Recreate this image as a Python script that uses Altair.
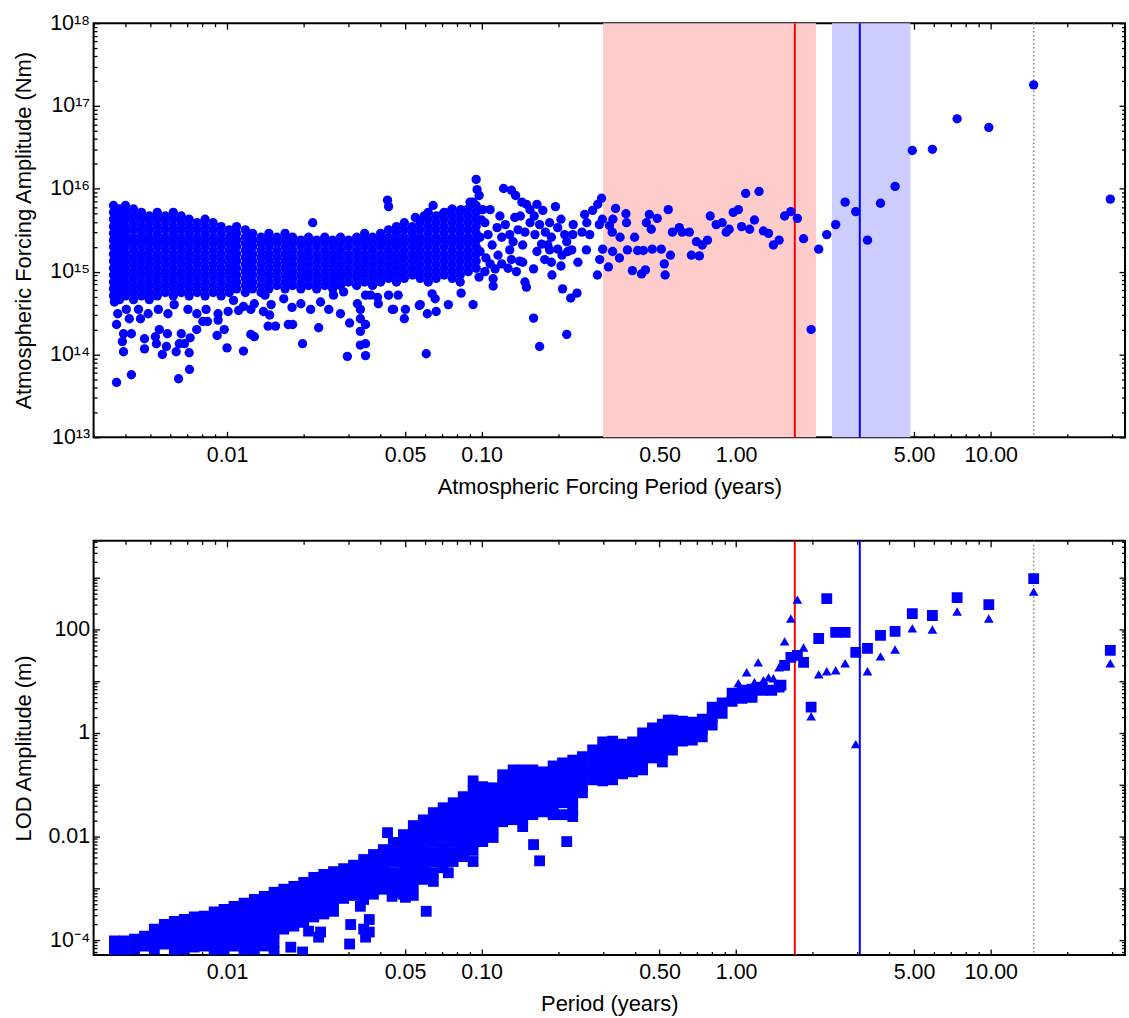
import altair as alt
import pandas as pd

FONT = "Liberation Sans"
BLUE = "#0000FF"

# ---------------- axis ranges / ticks ----------------
x_domain = [0.00299, 33.7]
top_y_domain = [1e13, 1e18]
bot_y_domain = [5.15e-5, 5150]

x_label_values = [0.01, 0.05, 0.1, 0.5, 1, 5, 10]
x_minor_values = [0.003, 0.004, 0.005, 0.006, 0.007, 0.008, 0.009,
                  0.02, 0.03, 0.04, 0.06, 0.07, 0.08, 0.09,
                  0.2, 0.3, 0.4, 0.6, 0.7, 0.8, 0.9,
                  2, 3, 4, 6, 7, 8, 9, 20, 30]
top_y_labels = [1e13, 1e14, 1e15, 1e16, 1e17, 1e18]
top_y_minor = [m * 10.0 ** e for e in range(13, 18) for m in range(2, 10)]
bot_y_labels = [1e-4, 0.01, 1, 100]
bot_y_major = [1e-4, 1e-3, 0.01, 0.1, 1, 10, 100, 1000]
bot_y_minor = [m * 10.0 ** e for e in range(-5, 4) for m in range(2, 10)]

# ---------------- top panel data: forcing amplitude (Nm) vs period (years) ----------------
top_dense_period = [0.00358, 0.00378, 0.00399, 0.00429, 0.00461, 0.00495, 0.00532, 0.00572, 0.00615, 0.00661,
                    0.00710, 0.00763, 0.00820, 0.00882, 0.00948, 0.0102, 0.0109, 0.0118, 0.0126, 0.0136,
                    0.0146, 0.0157, 0.0169, 0.0181, 0.0195, 0.0209, 0.0225, 0.0242, 0.0260, 0.0279,
                    0.0300, 0.0323, 0.0347, 0.0373, 0.0401, 0.0431, 0.0463, 0.0497, 0.0535, 0.0574,
                    0.0617, 0.0663, 0.0713, 0.0767, 0.0824, 0.0886, 0.0952]
top_dense_amp = [
    [6.3e15, 5.2e15, 4.3e15, 3.5e15, 2.9e15, 2.4e15, 2.0e15, 1.63e15, 1.34e15, 1.1e15, 9.1e14, 7.5e14, 6.2e14, 5.1e14],
    [5.7e15, 4.7e15, 3.9e15, 3.2e15, 2.6e15, 2.2e15, 1.8e15, 1.48e15, 1.22e15, 1.0e15, 8.3e14, 6.8e14, 5.6e14, 4.6e14],
    [6.3e15, 5.2e15, 4.3e15, 3.5e15, 2.9e15, 2.4e15, 2.0e15, 1.63e15, 1.34e15, 1.1e15, 9.1e14, 7.5e14, 6.2e14, 5.1e14],
    [5.7e15, 4.7e15, 3.9e15, 3.2e15, 2.6e15, 2.2e15, 1.8e15, 1.48e15, 1.22e15, 1.0e15, 8.3e14, 6.8e14, 5.6e14, 4.6e14],
    [5.2e15, 4.3e15, 3.5e15, 2.9e15, 2.4e15, 2.0e15, 1.63e15, 1.34e15, 1.1e15, 9.1e14, 7.5e14, 6.2e14, 5.1e14],
    [4.7e15, 3.9e15, 3.2e15, 2.6e15, 2.2e15, 1.8e15, 1.48e15, 1.22e15, 1.0e15, 8.3e14, 6.8e14, 5.6e14, 4.6e14],
    [5.2e15, 4.3e15, 3.5e15, 2.9e15, 2.4e15, 2.0e15, 1.63e15, 1.34e15, 1.1e15, 9.1e14, 7.5e14, 6.2e14, 5.1e14],
    [4.7e15, 3.9e15, 3.2e15, 2.6e15, 2.2e15, 1.8e15, 1.48e15, 1.22e15, 1.0e15, 8.3e14, 6.8e14, 5.6e14],
    [5.2e15, 4.3e15, 3.5e15, 2.9e15, 2.4e15, 2.0e15, 1.63e15, 1.34e15, 1.1e15, 9.1e14, 7.5e14, 6.2e14, 5.1e14],
    [4.7e15, 3.9e15, 3.2e15, 2.6e15, 2.2e15, 1.8e15, 1.48e15, 1.22e15, 1.0e15, 8.3e14, 6.8e14, 5.6e14],
    [4.3e15, 3.5e15, 2.9e15, 2.4e15, 2.0e15, 1.63e15, 1.34e15, 1.1e15, 9.1e14, 7.5e14, 6.2e14, 5.1e14],
    [3.9e15, 3.2e15, 2.6e15, 2.2e15, 1.8e15, 1.48e15, 1.22e15, 1.0e15, 8.3e14, 6.8e14, 5.6e14],
    [4.3e15, 3.5e15, 2.9e15, 2.4e15, 2.0e15, 1.63e15, 1.34e15, 1.1e15, 9.1e14, 7.5e14, 6.2e14, 5.1e14],
    [3.9e15, 3.2e15, 2.6e15, 2.2e15, 1.8e15, 1.48e15, 1.22e15, 1.0e15, 8.3e14, 6.8e14, 5.6e14],
    [3.5e15, 2.9e15, 2.4e15, 2.0e15, 1.63e15, 1.34e15, 1.1e15, 9.1e14, 7.5e14, 6.2e14, 5.1e14],
    [3.2e15, 2.6e15, 2.2e15, 1.8e15, 1.48e15, 1.22e15, 1.0e15, 8.3e14, 6.8e14, 5.6e14],
    [3.5e15, 2.9e15, 2.4e15, 2.0e15, 1.63e15, 1.34e15, 1.1e15, 9.1e14, 7.5e14, 6.2e14],
    [3.2e15, 2.6e15, 2.2e15, 1.8e15, 1.48e15, 1.22e15, 1.0e15, 8.3e14, 6.8e14, 5.6e14],
    [2.9e15, 2.4e15, 2.0e15, 1.63e15, 1.34e15, 1.1e15, 9.1e14, 7.5e14, 6.2e14],
    [2.6e15, 2.2e15, 1.8e15, 1.48e15, 1.22e15, 1.0e15, 8.3e14, 6.8e14, 5.6e14],
    [2.9e15, 2.4e15, 2.0e15, 1.63e15, 1.34e15, 1.1e15, 9.1e14, 7.5e14, 6.2e14],
    [2.6e15, 2.2e15, 1.8e15, 1.48e15, 1.22e15, 1.0e15, 8.3e14, 6.8e14],
    [2.9e15, 2.4e15, 2.0e15, 1.63e15, 1.34e15, 1.1e15, 9.1e14, 7.5e14, 6.2e14],
    [2.6e15, 2.2e15, 1.8e15, 1.48e15, 1.22e15, 1.0e15, 8.3e14, 6.8e14],
    [2.4e15, 2.0e15, 1.63e15, 1.34e15, 1.1e15, 9.1e14, 7.5e14, 6.2e14],
    [2.6e15, 2.2e15, 1.8e15, 1.48e15, 1.22e15, 1.0e15, 8.3e14, 6.8e14],
    [2.4e15, 2.0e15, 1.63e15, 1.34e15, 1.1e15, 9.1e14, 7.5e14, 6.2e14],
    [2.6e15, 2.2e15, 1.8e15, 1.48e15, 1.22e15, 1.0e15, 8.3e14, 6.8e14],
    [2.4e15, 2.0e15, 1.63e15, 1.34e15, 1.1e15, 9.1e14, 7.5e14, 6.2e14],
    [2.6e15, 2.2e15, 1.8e15, 1.48e15, 1.22e15, 1.0e15, 8.3e14, 6.8e14],
    [2.4e15, 2.0e15, 1.63e15, 1.34e15, 1.1e15, 9.1e14, 7.5e14],
    [2.6e15, 2.2e15, 1.8e15, 1.48e15, 1.22e15, 1.0e15, 8.3e14, 6.8e14],
    [2.9e15, 2.4e15, 2.0e15, 1.63e15, 1.34e15, 1.1e15, 9.1e14, 7.5e14],
    [2.6e15, 2.2e15, 1.8e15, 1.48e15, 1.22e15, 1.0e15, 8.3e14, 6.8e14],
    [2.9e15, 2.4e15, 2.0e15, 1.63e15, 1.34e15, 1.1e15, 9.1e14, 7.5e14],
    [3.2e15, 2.6e15, 2.2e15, 1.8e15, 1.48e15, 1.22e15, 1.0e15, 8.3e14],
    [3.5e15, 2.9e15, 2.4e15, 2.0e15, 1.63e15, 1.34e15, 1.1e15, 9.1e14, 7.5e14],
    [3.9e15, 3.2e15, 2.6e15, 2.2e15, 1.8e15, 1.48e15, 1.22e15, 1.0e15, 8.3e14],
    [3.5e15, 2.9e15, 2.4e15, 2.0e15, 1.63e15, 1.34e15, 1.1e15, 9.1e14],
    [3.9e15, 3.2e15, 2.6e15, 2.2e15, 1.8e15, 1.48e15, 1.22e15, 1.0e15, 8.3e14],
    [5.2e15, 4.3e15, 3.5e15, 2.9e15, 2.4e15, 2.0e15, 1.63e15, 1.34e15, 1.1e15, 9.1e14, 7.5e14],
    [4.7e15, 3.9e15, 3.2e15, 2.6e15, 2.2e15, 1.8e15, 1.48e15, 1.22e15, 1.0e15, 8.3e14],
    [5.2e15, 4.3e15, 3.5e15, 2.9e15, 2.4e15, 2.0e15, 1.63e15, 1.34e15, 1.1e15, 9.1e14],
    [5.7e15, 4.7e15, 3.9e15, 3.2e15, 2.6e15, 2.2e15, 1.8e15, 1.48e15, 1.22e15, 1.0e15, 8.3e14],
    [5.2e15, 4.3e15, 3.5e15, 2.9e15, 2.4e15, 2.0e15, 1.63e15, 1.34e15, 1.1e15, 9.1e14, 7.5e14],
    [5.7e15, 4.7e15, 3.9e15, 3.2e15, 2.6e15, 2.2e15, 1.8e15, 1.48e15, 1.22e15, 1.0e15],
    [6.3e15, 5.2e15, 4.3e15, 3.5e15, 2.9e15, 2.4e15, 2.0e15, 1.63e15, 1.34e15, 1.1e15],
]

top_scatter = [
    # long-period, individually resolved components
    (29.5, 7.5e15), (14.75, 1.8e17), (9.83, 5.5e16), (7.38, 7.0e16), (5.9, 3.0e16), (4.92, 2.9e16),
    (4.21, 1.07e16), (3.69, 6.7e15), (3.28, 2.4e15), (2.95, 5.3e15), (2.68, 6.9e15), (2.46, 3.7e15),
    (2.27, 2.8e15), (2.11, 1.87e15), (1.97, 2.0e14), (1.84, 2.5e15), (1.74, 4.4e15), (1.64, 5.3e15),
    (1.55, 4.7e15), (1.475, 2.4e15), (1.40, 2.1e15), (1.34, 2.9e15), (1.28, 3.1e15), (1.23, 9.3e15),
    (1.18, 4.2e15), (1.13, 3.25e15), (1.09, 8.8e15), (1.05, 3.5e15), (1.02, 5.6e15), (0.974, 5.2e15),
    (0.939, 3.25e15), (0.914, 3.0e15), (0.881, 3.9e15), (0.835, 3.7e15), (0.791, 4.7e15), (0.771, 2.4e15),
    (0.736, 2.1e15), (0.717, 1.55e15), (0.698, 2.3e15), (0.667, 1.58e15), (0.655, 3.0e15), (0.614, 3.0e15),
    (0.598, 3.4e15), (0.562, 3.0e15), (0.552, 1.58e15), (0.541, 5.6e15), (0.526, 9.1e14), (0.522, 1.24e15),
    (0.508, 1.87e15), (0.490, 4.4e15), (0.468, 1.87e15), (0.464, 3.25e15), (0.456, 4.9e15), (0.444, 3.9e15),
    (0.440, 1.05e15), (0.432, 1.8e15), (0.425, 9.4e14), (0.410, 1.8e15), (0.399, 2.6e15), (0.391, 1.03e15),
    (0.374, 1.83e15), (0.371, 3.9e15), (0.369, 5.0e15), (0.348, 1.46e15), (0.350, 2.6e15), (0.336, 5.8e15),
    (0.327, 1.75e15), (0.326, 3.0e15), (0.328, 4.3e15), (0.318, 3.6e15), (0.315, 1.14e15), (0.299, 1.87e15),
    (0.298, 4.3e15), (0.296, 7.7e15), (0.291, 1.4e15), (0.290, 3.7e15), (0.285, 9.1e14), (0.286, 6.5e15),
    (0.273, 5.5e15), (0.266, 2.8e15), (0.259, 3.9e15), (0.258, 1.83e15), (0.254, 4.9e15), (0.248, 3.0e15),
    (0.239, 1.3e15), (0.237, 5.5e14), (0.228, 2.8e15), (0.229, 3.7e15), (0.226, 1.83e15), (0.224, 4.8e14),
    (0.218, 1.75e15), (0.216, 2.3e15), (0.216, 1.75e14), (0.208, 6.2e14), (0.207, 1.58e15), (0.205, 1.17e15),
    (0.205, 4.3e15), (0.199, 1.87e15), (0.195, 6.1e15), (0.189, 9.1e14), (0.188, 1.3e15), (0.185, 1.83e15),
    (0.185, 3.9e15), (0.182, 2.1e15), (0.174, 5.5e15), (0.172, 2.15e15), (0.169, 1.25e14), (0.165, 6.5e15),
    (0.161, 4.7e15), (0.160, 1.08e15), (0.160, 2.75e14), (0.155, 5.6e15), (0.150, 6.5e14), (0.150, 6.5e15),
    (0.148, 7.5e14), (0.144, 6.9e15), (0.145, 2.1e15), (0.145, 1.3e15), (0.141, 1.34e15), (0.137, 1.0e15),
    (0.136, 8.3e15), (0.133, 2.3e15), (0.131, 9.6e15), (0.131, 1.4e15), (0.129, 1.83e15), (0.127, 1.1e15),
    (0.122, 1.01e16), (0.118, 4.7e15), (0.116, 1.58e15), (0.113, 1.08e15), (0.111, 8.2e14), (0.111, 6.7e14),
    (0.108, 5.6e15), (0.101, 5.6e15), (0.0977, 8.6e14), (0.0978, 8.3e15), (0.0960, 9.8e15), (0.0952, 1.3e16),
    (0.0926, 4.0e14), (0.0926, 6.9e15), (0.0863, 5.5e15), (0.0831, 5.5e14), (0.074, 4.0e14), (0.0663, 3.3e14),
    (0.0645, 6.3e15), (0.0612, 3.1e14), (0.0606, 1.02e14), (0.0569, 3.9e14), (0.0502, 3.5e14), (0.0497, 2.7e14),
    (0.0446, 3.5e14),
    # mid cloud around 0.1-0.2 years
    (0.103, 3.9e15), (0.106, 2.8e15), (0.110, 2.1e15), (0.115, 3.4e15), (0.120, 2.6e15), (0.124, 3.7e15),
    (0.129, 2.8e15), (0.135, 4.5e15), (0.139, 3.2e15), (0.142, 4.7e15), (0.148, 3.0e15), (0.155, 3.9e15),
    (0.162, 2.8e15), (0.169, 3.7e15), (0.178, 3.0e15), (0.188, 2.6e15), (0.199, 3.4e15), (0.212, 2.8e15),
    (0.104, 1.46e15), (0.108, 1.24e15), (0.120, 1.24e15), (0.103, 1.0e15), (0.0986, 1.75e15), (0.0986, 2.6e15),
    (0.100, 4.2e15), (0.165, 1.75e15), (0.177, 1.4e15),
    # upper points above the dense band
    (0.0549, 4.5e15), (0.0594, 4.7e15), (0.0703, 4.9e15), (0.0760, 5.5e15), (0.0830, 5.6e15), (0.0901, 6.9e15),
    (0.0217, 3.9e15), (0.0427, 7.3e15), (0.0431, 6.1e15),
    # low outliers under the dense band
    (0.00368, 4.6e13), (0.00421, 5.7e13), (0.00645, 5.1e13), (0.00712, 6.6e13), (0.00392, 1.08e14),
    (0.00388, 1.43e14), (0.00392, 1.78e14), (0.00368, 2.3e14), (0.00421, 1.78e14), (0.00413, 2.7e14),
    (0.00457, 2.7e14), (0.00474, 1.55e14), (0.00474, 1.17e14), (0.00523, 1.64e14), (0.00528, 1.35e14),
    (0.00542, 2.0e14), (0.00583, 1.78e14), (0.00578, 1.25e14), (0.00557, 1.0e14), (0.00631, 1.08e14),
    (0.00661, 1.78e14), (0.00649, 1.35e14), (0.00680, 1.35e14), (0.00716, 1.59e14), (0.00710, 1.05e14),
    (0.00760, 2.0e14), (0.00803, 2.5e14), (0.00838, 2.5e14), (0.00922, 2.6e14), (0.00914, 1.7e14),
    (0.00975, 2.0e14), (0.0100, 1.2e14), (0.0116, 1.1e14), (0.0124, 1.75e14), (0.0128, 1.64e14),
    (0.0145, 2.2e14), (0.0147, 3.0e14), (0.0141, 5.2e14), (0.0149, 4.0e14), (0.0155, 2.2e14),
    (0.0174, 2.3e14), (0.0181, 2.3e14), (0.0180, 3.7e14), (0.0195, 4.1e14), (0.0213, 3.5e14),
    (0.0229, 2.1e14), (0.0198, 1.35e14), (0.0251, 3.5e14), (0.0279, 3.1e14), (0.0303, 2.4e14),
    (0.0297, 9.5e13), (0.0334, 1.3e14), (0.0350, 1.35e14), (0.0350, 9.7e13), (0.0334, 1.9e14),
    (0.0350, 2.3e14), (0.0334, 2.7e14), (0.0334, 3.5e14), (0.0325, 4.1e14), (0.0350, 5.2e14),
    (0.0390, 4.9e14), (0.0431, 5.2e14), (0.0451, 3.5e14), (0.0470, 5.2e14), (0.0574, 4.0e14),
    (0.0639, 5.4e14), (0.0657, 4.7e14),
    (0.00361, 4.3e14), (0.00372, 3.1e14), (0.00402, 3.5e14), (0.00449, 3.5e14), (0.00490, 3.1e14),
    (0.00537, 3.5e14), (0.00586, 3.1e14), (0.00620, 4.0e14), (0.00702, 3.5e14), (0.00761, 3.1e14),
    (0.00827, 3.5e14), (0.00922, 3.1e14), (0.0101, 3.3e14), (0.0111, 3.4e14), (0.0124, 3.5e14),
    (0.0139, 3.3e14), (0.0128, 4.1e14), (0.0116, 3.8e14), (0.0106, 4.5e14), (0.0167, 4.7e14),
    (0.0233, 4.3e14), (0.0262, 5.2e14), (0.0287, 5.7e14), (0.0366, 5.2e14), (0.0393, 4.1e14),
]

# ---------------- bottom panel data: LOD amplitude (m) vs period (years) ----------------
bot_band_period = [0.00361, 0.00395, 0.00433, 0.00474, 0.00518, 0.00567, 0.00621, 0.00679, 0.00743, 0.00813,
                   0.0089, 0.00973, 0.01065, 0.01166, 0.0128, 0.0140, 0.0153, 0.0167, 0.0183, 0.0200,
                   0.0219, 0.0240, 0.0262, 0.0287, 0.0314, 0.0344, 0.0376, 0.0411, 0.0450, 0.0493,
                   0.0539, 0.0590, 0.0646, 0.0706, 0.0773, 0.0847, 0.0926, 0.101, 0.111, 0.121,
                   0.133, 0.145, 0.159, 0.174, 0.191, 0.208, 0.228, 0.249, 0.273, 0.299,
                   0.327, 0.358, 0.392, 0.429, 0.469, 0.513, 0.562, 0.615, 0.673, 0.736,
                   0.805, 0.881, 0.964, 1.055, 1.155, 1.264]
bot_band_lod = [
    [9.6e-5, 6.1e-5], [9.6e-5, 6.1e-5], [1.04e-4, 6.7e-5], [1.19e-4, 7.7e-5],
    [1.63e-4, 1.04e-4, 6.7e-5], [2.0e-4, 1.3e-4, 8.4e-5],
    [2.3e-4, 1.49e-4, 9.6e-5, 6.1e-5], [2.5e-4, 1.63e-4, 1.04e-4, 6.7e-5],
    [2.8e-4, 1.78e-4, 1.14e-4, 7.3e-5], [2.9e-4, 1.86e-4, 1.19e-4, 7.7e-5],
    [3.5e-4, 2.2e-4, 1.43e-4, 9.2e-5, 5.9e-5], [3.9e-4, 2.5e-4, 1.63e-4, 1.04e-4, 6.7e-5],
    [4.5e-4, 2.9e-4, 1.86e-4, 1.19e-4, 7.7e-5], [5.2e-4, 3.3e-4, 2.1e-4, 1.36e-4, 8.8e-5, 5.6e-5],
    [6.1e-4, 3.9e-4, 2.5e-4, 1.63e-4, 1.04e-4, 6.7e-5], [7.0e-4, 4.5e-4, 2.9e-4, 1.86e-4, 1.19e-4, 7.7e-5],
    [8.4e-4, 5.4e-4, 3.5e-4, 2.2e-4, 1.43e-4, 9.2e-5, 5.9e-5],
    [9.6e-4, 6.1e-4, 3.9e-4, 2.5e-4, 1.63e-4],
    [1.09e-3, 7.0e-4, 4.5e-4, 2.9e-4, 1.86e-4],
    [1.3e-3, 8.4e-4, 5.4e-4, 3.5e-4, 2.2e-4],
    [1.63e-3, 1.05e-3, 6.7e-4, 4.3e-4, 2.8e-4],
    [1.86e-3, 1.19e-3, 7.7e-4, 4.9e-4, 3.2e-4],
    [2.1e-3, 1.36e-3, 8.8e-4, 5.6e-4, 3.6e-4],
    [2.4e-3, 1.56e-3, 1.0e-3, 6.4e-4],
    [2.8e-3, 1.78e-3, 1.14e-3, 7.3e-4],
    [3.6e-3, 2.3e-3, 1.49e-3, 9.6e-4, 6.1e-4],
    [4.5e-3, 2.9e-3, 1.86e-3, 1.19e-3, 7.7e-4],
    [5.6e-3, 3.6e-3, 2.3e-3, 1.49e-3, 9.6e-4],
    [7.7e-3, 4.9e-3, 3.2e-3, 2.0e-3, 1.3e-3, 8.4e-4],
    [1.09e-2, 7.0e-3, 4.5e-3, 2.9e-3, 1.86e-3, 1.19e-3, 7.7e-4],
    [1.63e-2, 1.04e-2, 6.7e-3, 4.3e-3, 2.8e-3, 1.78e-3, 1.14e-3, 7.3e-4],
    [2.1e-2, 1.36e-2, 8.8e-3, 5.6e-3, 3.6e-3, 2.3e-3, 1.49e-3],
    [2.9e-2, 1.86e-2, 1.19e-2, 7.7e-3, 4.9e-3, 3.2e-3, 2.0e-3, 1.36e-3],
    [3.6e-2, 2.3e-2, 1.49e-2, 9.6e-3, 6.1e-3, 3.9e-3, 2.5e-3],
    [4.5e-2, 2.9e-2, 1.86e-2, 1.19e-2, 7.7e-3, 4.9e-3, 3.3e-3],
    [5.9e-2, 3.8e-2, 2.43e-2, 1.56e-2, 1.0e-2, 6.4e-3, 4.1e-3],
    [0.119, 0.077, 0.049, 0.0316, 0.0203, 0.013, 8.4e-3, 5.4e-3],
    [0.092, 0.059, 0.038, 0.0243, 0.0156, 0.010, 8.0e-3],
    [0.0875, 0.056, 0.036, 0.023, 0.0149, 9.6e-3],
    [0.156, 0.10, 0.064, 0.041, 0.0265, 0.0194],
    [0.194, 0.125, 0.080, 0.051, 0.033, 0.0212],
    [0.194, 0.125, 0.080, 0.051, 0.033, 0.0212, 0.0156],
    [0.194, 0.125, 0.080, 0.051, 0.033, 0.0265],
    [0.178, 0.114, 0.073, 0.047, 0.030],
    [0.232, 0.149, 0.096, 0.061, 0.039, 0.0265],
    [0.265, 0.170, 0.109, 0.070, 0.045, 0.0265],
    [0.30, 0.194, 0.125, 0.080, 0.051, 0.033, 0.0243],
    [0.35, 0.222, 0.143, 0.092, 0.070],
    [0.47, 0.30, 0.194, 0.125],
    [0.67, 0.43, 0.277, 0.178, 0.119],
    [0.70, 0.45, 0.29, 0.186, 0.125],
    [0.61, 0.39, 0.253, 0.163],
    [0.67, 0.43, 0.277, 0.178],
    [1.0, 0.64, 0.41, 0.265, 0.194],
    [1.25, 0.80, 0.52, 0.33],
    [1.49, 0.96, 0.61, 0.39, 0.277],
    [1.78, 1.14, 0.73, 0.47],
    [1.70, 1.09, 0.70],
    [1.63, 1.04, 0.73],
    [1.86, 1.19, 0.84],
    [3.16, 2.0, 1.43],
    [3.8, 2.4],
    [5.9, 4.1],
    [6.7, 4.7],
    [7.0, 4.9],
    [7.7, 6.7],
]

bot_square_scatter = [
    (0.0427, 0.0119), (0.0606, 3.6e-4), (0.160, 0.007), (0.169, 0.0034), (0.216, 0.008), (0.074, 0.002),
    (0.0926, 0.0033), (0.0178, 7.3e-5), (0.0229, 1.14e-4), (0.0303, 8.4e-5), (0.0362, 1.43e-4),
    (0.0362, 2.5e-4), (0.0334, 4.5e-4), (0.0198, 5.9e-5), (0.0209, 1.49e-4), (0.0233, 1.43e-4),
    (0.0306, 2.0e-4), (0.0344, 1.63e-4), (0.0350, 1.14e-4), (0.0445, 7.0e-4), (0.0502, 6.7e-4),
    (0.541, 1.78), (1.38, 6.7), (1.475, 7.7), (1.50, 8.4),
    (1.55, 20.3), (1.64, 29), (1.74, 31.6), (1.84, 23.2), (1.97, 3.16), (2.11, 67), (2.27, 394),
    (2.46, 88), (2.68, 88), (2.95, 36), (3.28, 43), (3.69, 77), (4.21, 92), (4.92, 203), (5.9, 186),
    (7.38, 412), (9.83, 303), (14.75, 957), (29.5, 39.5),
]

bot_triangles = [
    (1.02, 9.2), (1.10, 14.9), (1.18, 9.6), (1.22, 23.2), (1.28, 10.5), (1.34, 11.9), (1.40, 11.4),
    (1.475, 18.6), (1.55, 59), (1.64, 163), (1.74, 378), (1.84, 45), (1.97, 2.1), (2.11, 13.6),
    (2.27, 15.6), (2.46, 16.3), (2.68, 22.2), (2.95, 0.61), (3.28, 15.6), (3.69, 30.3), (4.21, 41),
    (4.92, 105), (5.9, 100), (7.38, 222), (9.83, 163), (14.75, 538), (29.5, 22.2),
]

# reference periods (years)
band_start = [0.30, 2.38]
band_end = [2.06, 4.84]
band_color = ["#FFCCCC", "#CCCCFF"]
line_period = [1.70, 3.06]
line_color = ["#FF0000", "#0000FF"]
dotted_period = [14.75]

# ---------------- tables ----------------
assert len(top_dense_period) == len(top_dense_amp)
assert len(bot_band_period) == len(bot_band_lod)
top_rows = [(p, a) for p, col in zip(top_dense_period, top_dense_amp) for a in col] + top_scatter
top_df = pd.DataFrame(top_rows, columns=["period", "amp"])
bot_rows = [(p, v) for p, col in zip(bot_band_period, bot_band_lod) for v in col] + bot_square_scatter
sq_df = pd.DataFrame(bot_rows, columns=["period", "lod"])
tri_df = pd.DataFrame(bot_triangles, columns=["period", "lod"])
band_df = pd.DataFrame({"start": band_start, "end": band_end, "color": band_color})
line_df = pd.DataFrame({"period": line_period, "color": line_color})
dot_df = pd.DataFrame({"period": dotted_period})

W, H = 1036, 416
LABEL_SIZE = 21.5
TITLE_SIZE = 22


def xs():
    return alt.Scale(type="log", domain=x_domain, nice=False)


def ys(dom):
    return alt.Scale(type="log", domain=dom, nice=False)


def axis_layers(ydom, ylab_vals, ylab_expr, ymaj, ymin, ytitle, xtitle):
    df = pd.DataFrame({"x": x_domain, "y": ydom})
    base = alt.Chart(df).mark_point(opacity=0)
    layers = [base.encode(
        x=alt.X("x:Q", scale=xs(), axis=alt.Axis(
            orient="bottom", values=x_label_values, format=".2f", ticks=False, domain=False, grid=False,
            labelFontSize=LABEL_SIZE, labelBaseline="alphabetic", labelPadding=24, labelFlush=False,
            labelOverlap=False, title=xtitle, titleFontSize=TITLE_SIZE, titleFontWeight="normal",
            titleBaseline="alphabetic", titleY=56, titleLimit=2000)),
        y=alt.Y("y:Q", scale=ys(ydom), axis=alt.Axis(
            orient="left", values=ylab_vals, labelExpr=ylab_expr, ticks=False, domain=False, grid=False,
            labelFontSize=LABEL_SIZE, labelPadding=4, labelOverlap=False, labelFlush=False,
            title=ytitle, titleFontSize=TITLE_SIZE, titleFontWeight="normal",
            titleBaseline="alphabetic", titleX=-63, titleLimit=2000)),
    )]
    for ox, oy, vx, vy, size in [("bottom", "left", x_label_values, ymaj, 6),
                                 ("bottom", "left", x_minor_values, ymin, 3.5),
                                 ("top", "right", x_label_values, ymaj, 6),
                                 ("top", "right", x_minor_values, ymin, 3.5)]:
        layers.append(base.encode(
            x=alt.X("x:Q", scale=xs(), axis=alt.Axis(
                orient=ox, values=vx, labels=False, domain=False, grid=False, tickSize=size,
                tickWidth=1.3, tickColor="black", offset=-size, title=None)),
            y=alt.Y("y:Q", scale=ys(ydom), axis=alt.Axis(
                orient=oy, values=vy, labels=False, domain=False, grid=False, tickSize=size,
                tickWidth=1.3, tickColor="black", offset=-size, title=None)),
        ))
    return layers


def ref_lines():
    solid = alt.Chart(line_df).mark_rule(strokeWidth=2).encode(
        x=alt.X("period:Q", scale=xs(), axis=None),
        color=alt.Color("color:N", scale=None))
    dotted = alt.Chart(dot_df).mark_rule(strokeWidth=1.5, strokeDash=[1.5, 2.5], color="#808080").encode(
        x=alt.X("period:Q", scale=xs(), axis=None))
    return [solid, dotted]


# ---- top panel
bands = alt.Chart(band_df).mark_rect(opacity=1).encode(
    x=alt.X("start:Q", scale=xs(), axis=None), x2="end:Q",
    y=alt.value(0), y2=alt.value(H),
    color=alt.Color("color:N", scale=None))
top_pts = alt.Chart(top_df).mark_circle(size=88, color=BLUE, opacity=1, clip=True).encode(
    x=alt.X("period:Q", scale=xs(), axis=None),
    y=alt.Y("amp:Q", scale=ys(top_y_domain), axis=None))
top_expr = ("'10' + ['\u00b9\u00b3','\u00b9\u2074','\u00b9\u2075','\u00b9\u2076','\u00b9\u2077','\u00b9\u2078']"
            "[round(log(datum.value)/LN10) - 13]")
top = alt.layer(
    bands, *ref_lines(), top_pts,
    *axis_layers(top_y_domain, top_y_labels, top_expr, top_y_labels, top_y_minor,
                 "Atmospheric Forcing Amplitude (Nm)", "Atmospheric Forcing Period (years)")
).properties(width=W, height=H).resolve_axis(x="independent", y="independent")

# ---- bottom panel
sq_pts = alt.Chart(sq_df).mark_square(size=118, color=BLUE, opacity=1, clip=True).encode(
    x=alt.X("period:Q", scale=xs(), axis=None),
    y=alt.Y("lod:Q", scale=ys(bot_y_domain), axis=None))
tri_pts = alt.Chart(tri_df).mark_point(shape="triangle-up", filled=True, size=95, color=BLUE,
                                       opacity=1, clip=True).encode(
    x=alt.X("period:Q", scale=xs(), axis=None),
    y=alt.Y("lod:Q", scale=ys(bot_y_domain), axis=None))
bot_expr = ("datum.value < 0.001 ? '10\u207b\u2074' : datum.value < 0.1 ? '0.01' : "
            "datum.value < 10 ? '1' : '100'")
bottom = alt.layer(
    *ref_lines(), sq_pts, tri_pts,
    *axis_layers(bot_y_domain, bot_y_labels, bot_expr, bot_y_major, bot_y_minor,
                 "LOD Amplitude (m)", "Period (years)")
).properties(width=W, height=H).resolve_axis(x="independent", y="independent")

chart = alt.vconcat(top, bottom, spacing=104, bounds="flush").properties(
    padding={"left": 11, "top": 9, "right": 0, "bottom": 0},
    background="white",
).configure_view(stroke="black", strokeWidth=2).configure_axis(
    labelFont=FONT, titleFont=FONT, labelColor="black", titleColor="black")

chart.save("out.html", embed_options={"renderer": "svg", "actions": False})
